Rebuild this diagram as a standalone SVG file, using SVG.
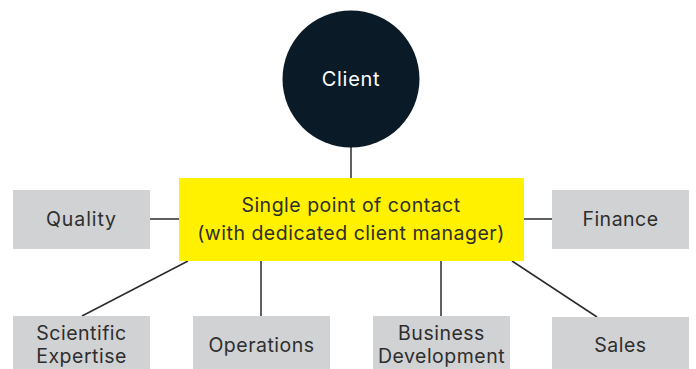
<svg xmlns="http://www.w3.org/2000/svg" width="696" height="369" viewBox="0 0 696 369">
<style>
.box{fill:#d1d2d4}
.lbl{font-family:Inter,"Noto Sans",sans-serif;font-size:19.5px;letter-spacing:0.5px;fill:#2e2e2e;text-anchor:middle}
.conn line{stroke:#2b2b2b;stroke-width:1.5}
</style>
<rect width="696" height="369" fill="#ffffff"/>
<g class="conn" id="connectors">
<line x1="351" y1="147" x2="351" y2="178"/>
<line x1="150" y1="219" x2="179" y2="219"/>
<line x1="524" y1="219" x2="552" y2="219"/>
<line x1="188" y1="261" x2="82" y2="316"/>
<line x1="261" y1="261" x2="261" y2="316"/>
<line x1="441" y1="261" x2="441" y2="316"/>
<line x1="512" y1="261" x2="597" y2="317"/>
</g>
<g id="client">
<circle cx="351" cy="79" r="68.5" fill="#0a1a26"/>
<text class="lbl" x="351" y="86" style="fill:#ffffff;font-size:20px;letter-spacing:0.7px">Client</text>
</g>
<g id="contact">
<rect x="179" y="178" width="345" height="83" fill="#fff100"/>
<text class="lbl" x="351" y="212">Single point of contact</text>
<text class="lbl" x="351" y="240">(with dedicated client manager)</text>
</g>
<g id="quality">
<rect class="box" x="13" y="190" width="137" height="59"/>
<text class="lbl" x="81.5" y="226" style="letter-spacing:0.9px">Quality</text>
</g>
<g id="finance">
<rect class="box" x="552" y="190" width="137" height="59"/>
<text class="lbl" x="620.5" y="226">Finance</text>
</g>
<g id="scientific">
<rect class="box" x="13" y="316" width="137" height="53"/>
<text class="lbl" x="81.5" y="340">Scientific</text>
<text class="lbl" x="81.5" y="363">Expertise</text>
</g>
<g id="operations">
<rect class="box" x="193" y="316" width="137" height="53"/>
<text class="lbl" x="261.5" y="352">Operations</text>
</g>
<g id="business">
<rect class="box" x="373" y="316" width="137" height="53"/>
<text class="lbl" x="441.5" y="340">Business</text>
<text class="lbl" x="441.5" y="363">Development</text>
</g>
<g id="sales">
<rect class="box" x="552" y="317" width="137" height="52"/>
<text class="lbl" x="620.5" y="352">Sales</text>
</g>
</svg>
